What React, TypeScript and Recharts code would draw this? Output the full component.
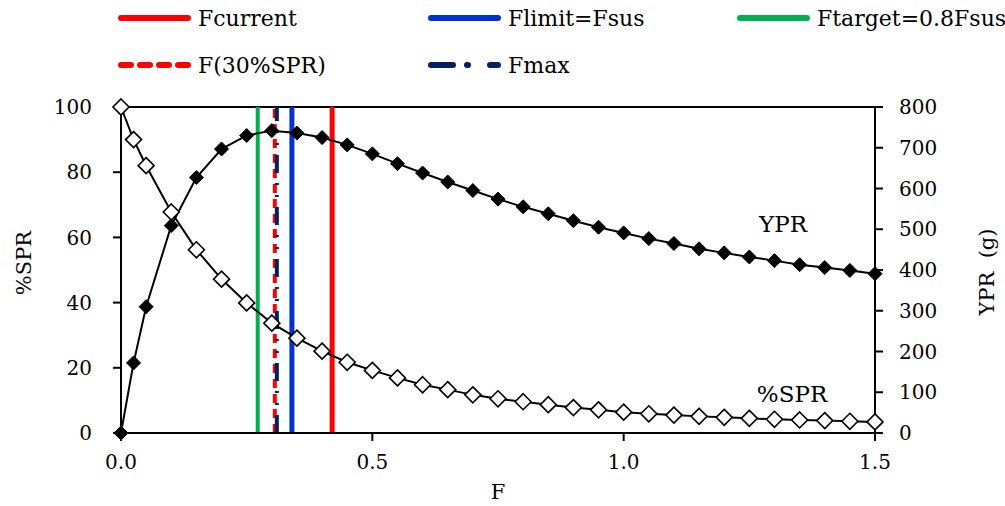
import {
  LineChart,
  Line,
  XAxis,
  YAxis,
  ReferenceLine,
} from "recharts";

const F_VALUES = [
  0, 0.025, 0.05, 0.1, 0.15, 0.2, 0.25, 0.3, 0.35, 0.4, 0.45, 0.5, 0.55, 0.6,
  0.65, 0.7, 0.75, 0.8, 0.85, 0.9, 0.95, 1.0, 1.05, 1.1, 1.15, 1.2, 1.25, 1.3,
  1.35, 1.4, 1.45, 1.5,
];

const SPR_VALUES = [
  100, 90.0, 82.0, 67.8, 56.2, 47.2, 39.9, 33.7, 29.1, 25.1, 21.7, 19.2, 16.9,
  14.8, 13.3, 11.7, 10.5, 9.6, 8.7, 7.8, 7.1, 6.4, 5.9, 5.5, 5.1, 4.8, 4.5, 4.2,
  4.0, 3.8, 3.6, 3.4,
];

const YPR_VALUES = [
  0, 172, 310, 509, 627, 697, 730, 742, 736, 725, 707, 685, 661, 638, 616, 595,
  574, 555, 538, 521, 505, 491, 477, 465, 452, 442, 432, 423, 413, 406, 399, 391,
];

const X_TICKS = [0, 0.5, 1.0, 1.5];
const SPR_TICKS = [0, 20, 40, 60, 80, 100];
const YPR_TICKS = [0, 100, 200, 300, 400, 500, 600, 700, 800];

const REF_LINES = [
  { name: "Fcurrent", f: 0.42, color: "#FF0000", width: 5, dash: undefined as string | undefined },
  { name: "Flimit=Fsus", f: 0.34, color: "#0033CC", width: 5, dash: undefined },
  { name: "Ftarget=0.8Fsus", f: 0.272, color: "#00B050", width: 4, dash: undefined },
  { name: "F(30%SPR)", f: 0.306, color: "#FF0000", width: 4, dash: "9 6" },
  { name: "Fmax", f: 0.31, color: "#002060", width: 4, dash: "18 10 2 10 2 10" },
];

const FONT = "DejaVu Serif";

const data = F_VALUES.map((f, i) => ({
  f,
  spr: SPR_VALUES[i],
  ypr: YPR_VALUES[i],
}));

const diamond = (cx: number, cy: number, h: number) =>
  `M${cx},${cy - h} L${cx + h},${cy} L${cx},${cy + h} L${cx - h},${cy} Z`;

const WhiteDiamond = (props: any) => {
  const { cx, cy, index } = props;
  if (cx == null || cy == null) return <g key={index} />;
  return (
    <path key={index} d={diamond(cx, cy, 8)} fill="#fff" stroke="#000" strokeWidth={1.6} />
  );
};

const BlackDiamond = (props: any) => {
  const { cx, cy, index } = props;
  if (cx == null || cy == null) return <g key={index} />;
  return <path key={index} d={diamond(cx, cy, 7)} fill="#000" stroke="#000" strokeWidth={1} />;
};

const LEGEND_COLS = [118, 428, 737];
const LEGEND_ROWS = [18, 65];

const Overlay = () => (
  <svg
    width={1005}
    height={506}
    style={{ position: "absolute", left: 0, top: 0, pointerEvents: "none" }}
  >
    {REF_LINES.map((r, i) => {
      const x = LEGEND_COLS[i % 3];
      const y = LEGEND_ROWS[Math.floor(i / 3)];
      return (
        <g key={r.name}>
          <line
            x1={x + 3}
            x2={x + 70}
            y1={y}
            y2={y}
            stroke={r.color}
            strokeWidth={6}
            strokeLinecap="round"
            strokeDasharray={r.dash ? (i === 3 ? "10 9" : "22 14 1 22") : undefined}
          />
          <text x={x + 80} y={y} dominantBaseline="central" fontSize={22} fontFamily={FONT}>
            {r.name}
          </text>
        </g>
      );
    })}
    <text
      x={0}
      y={0}
      transform="translate(24,263) rotate(-90)"
      textAnchor="middle"
      dominantBaseline="central"
      fontSize={21}
      fontFamily={FONT}
    >
      %SPR
    </text>
    <text
      x={0}
      y={0}
      transform="translate(987,272) rotate(-90)"
      textAnchor="middle"
      dominantBaseline="central"
      fontSize={21}
      fontFamily={FONT}
      style={{ whiteSpace: "pre" }}
    >
      {"YPR  (g)"}
    </text>
    <text x={498} y={492} textAnchor="middle" dominantBaseline="central" fontSize={21} fontFamily={FONT}>
      F
    </text>
    <text x={783} y={224} textAnchor="middle" dominantBaseline="central" fontSize={23} fontFamily={FONT}>
      YPR
    </text>
    <text x={792} y={394} textAnchor="middle" dominantBaseline="central" fontSize={23} fontFamily={FONT}>
      %SPR
    </text>
  </svg>
);

export default function App() {
  const tick = { fill: "#000", fontSize: 20, fontFamily: FONT };
  const axisLine = { stroke: "#000", strokeWidth: 2 };
  return (
    <div style={{ position: "absolute", left: 0, top: 0, width: 1005, height: 506, background: "#fff" }}>
      <LineChart
        width={1005}
        height={506}
        data={data}
        margin={{ top: 107, right: 70, bottom: 43, left: 61 }}
      >
        <XAxis
          type="number"
          dataKey="f"
          domain={[0, 1.5]}
          ticks={X_TICKS}
          tickFormatter={(v: number) => v.toFixed(1)}
          tick={tick}
          tickSize={8}
          tickMargin={14}
          axisLine={axisLine}
          tickLine={axisLine}
          height={30}
        />
        <YAxis
          yAxisId="spr"
          domain={[0, 100]}
          ticks={SPR_TICKS}
          tick={tick}
          tickSize={8}
          tickMargin={21}
          axisLine={axisLine}
          tickLine={axisLine}
          width={60}
        />
        <YAxis
          yAxisId="ypr"
          orientation="right"
          domain={[0, 800]}
          ticks={YPR_TICKS}
          tick={tick}
          tickSize={8}
          tickMargin={16}
          axisLine={axisLine}
          tickLine={axisLine}
          width={60}
        />
        <ReferenceLine yAxisId="spr" y={100} stroke="#000" strokeWidth={2} />
        {REF_LINES.map((r) => (
          <ReferenceLine
            key={r.name}
            yAxisId="spr"
            x={r.f}
            stroke={r.color}
            strokeWidth={r.width}
            strokeDasharray={r.dash}
          />
        ))}
        <Line
          yAxisId="ypr"
          dataKey="ypr"
          stroke="#000"
          strokeWidth={2}
          dot={BlackDiamond}
          isAnimationActive={false}
        />
        <Line
          yAxisId="spr"
          dataKey="spr"
          stroke="#000"
          strokeWidth={2}
          dot={WhiteDiamond}
          isAnimationActive={false}
        />
      </LineChart>
      <Overlay />
    </div>
  );
}
